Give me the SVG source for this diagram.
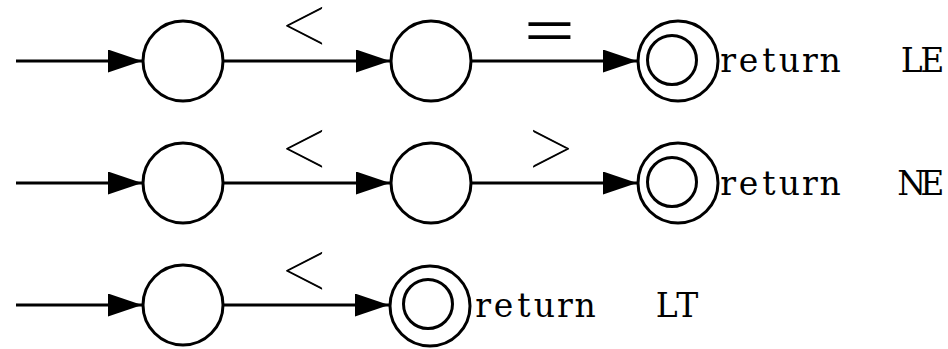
<svg xmlns="http://www.w3.org/2000/svg" width="948" height="349" viewBox="0 0 948 349">
<style>
.st{fill:#fff;stroke:#000;stroke-width:3}
.in{fill:none;stroke:#000;stroke-width:3}
.ed{fill:none;stroke:#000;stroke-width:3;marker-end:url(#ah)}
.lab{font-family:Lato,"Noto Sans",sans-serif;font-weight:200;font-size:96px;text-anchor:middle;fill:#000;stroke:#000;stroke-width:0.9}
.eq{font-family:"Liberation Sans",Arial,sans-serif;font-size:54px;text-anchor:middle;fill:#000}
.ret{font-family:"DejaVu Serif","Liberation Serif",serif;font-size:33px;text-anchor:middle;fill:#000}
</style>
<defs>
<marker id="ah" markerUnits="userSpaceOnUse" viewBox="0 0 34 23" markerWidth="34" markerHeight="23" refX="34" refY="11.5" orient="auto">
<path d="M0,0 L34,11.5 L0,23 Z" fill="#000"/>
</marker>
</defs>
<g id="connectors">
<line class="ed" x1="16" y1="61" x2="142" y2="61"/>
<line class="ed" x1="224" y1="61" x2="390" y2="61"/>
<line class="ed" x1="472" y1="61" x2="637" y2="61"/>
<line class="ed" x1="16" y1="183" x2="142" y2="183"/>
<line class="ed" x1="224" y1="183" x2="390" y2="183"/>
<line class="ed" x1="472" y1="183" x2="637" y2="183"/>
<line class="ed" x1="16" y1="305" x2="142" y2="305"/>
<line class="ed" x1="224" y1="305" x2="389" y2="305"/>
<text class="lab" x="305.5" y="57.7">&lt;</text>
<text class="eq" transform="translate(549.5,48) scale(1.6,0.95)">=</text>
<text class="lab" x="305.5" y="180.7">&lt;</text>
<text class="lab" x="549.5" y="180.7">&gt;</text>
<text class="lab" x="305.5" y="302.7">&lt;</text>
</g>
<g id="r1s1"><circle class="st" cx="183" cy="61" r="40"/></g>
<g id="r1s2"><circle class="st" cx="431" cy="61" r="40"/></g>
<g id="r1s3"><circle class="st" cx="678" cy="61" r="40"/><circle class="in" cx="672" cy="60" r="24.5"/>
<text class="ret" y="72" xml:space="preserve" x="728.2 748.6 769 789.4 809.8 830.2 850.6 871 891.4 911.8 932.2">return   LE</text></g>
<g id="r2s1"><circle class="st" cx="183" cy="183" r="40"/></g>
<g id="r2s2"><circle class="st" cx="431" cy="183" r="40"/></g>
<g id="r2s3"><circle class="st" cx="678" cy="183" r="40"/><circle class="in" cx="672" cy="182" r="24.5"/>
<text class="ret" y="195" xml:space="preserve" x="728.2 748.6 769 789.4 809.8 830.2 850.6 871 891.4 911.8 932.2">return   NE</text></g>
<g id="r3s1"><circle class="st" cx="183" cy="305" r="40"/></g>
<g id="r3s2"><circle class="st" cx="430" cy="306" r="40"/><circle class="in" cx="428" cy="304" r="24.5"/>
<text class="ret" y="317" xml:space="preserve" x="483.2 503.6 524 544.4 564.8 585.2 605.6 626 646.4 666.8 687.2">return   LT</text></g>
</svg>
